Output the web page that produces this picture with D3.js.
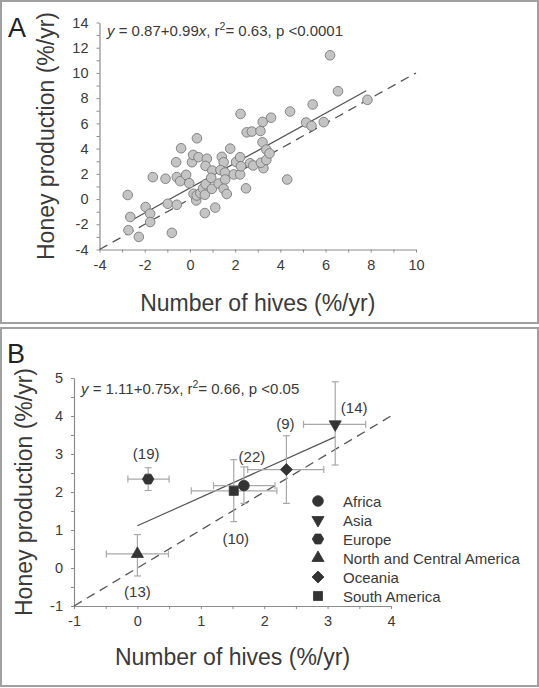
<!DOCTYPE html>
<html><head><meta charset="utf-8">
<script src="https://cdn.jsdelivr.net/npm/d3@7"></script>
<style>
html,body{margin:0;padding:0;background:#fff;}
svg{display:block;font-family:"Liberation Sans",Arial,sans-serif;}
</style></head>
<body><svg id="c" width="539" height="688"></svg>
<script>
// ---------- Panel A data ----------
const hivesA = [-2.75,-2.64,-2.72,-2.26,-1.96,-1.76,-1.76,-1.64,-1.08,-0.98,-0.80,-0.61,-0.58,-0.58,-0.43,-0.39,-0.17,-0.03,0.09,0.14,0.31,0.38,0.16,0.28,0.30,0.46,0.58,0.66,0.70,0.97,0.66,1.12,0.75,0.69,0.99,0.94,1.27,1.41,1.49,1.35,1.55,1.56,1.49,1.63,1.78,1.94,2.04,2.22,2.22,2.24,2.48,2.51,2.74,2.66,2.80,3.12,3.22,3.21,3.25,3.14,3.38,3.38,3.52,3.59,4.30,4.43,5.14,5.38,5.43,5.92,6.20,6.55,7.85,2.26];
const honeyA = [0.32,-1.42,-2.47,-3.00,-0.63,-1.16,-1.82,1.74,1.61,-0.37,-2.68,2.92,1.74,-0.45,1.42,4.03,1.92,1.26,2.92,3.50,4.82,3.32,0.42,-0.11,0.28,0.47,0.84,0.34,1.18,0.81,-1.11,-0.68,3.20,2.63,2.26,1.68,1.23,3.35,2.92,2.30,2.10,1.55,0.82,0.40,4.00,1.95,2.94,3.32,1.95,6.75,0.85,5.29,5.35,2.84,2.66,5.40,6.12,4.50,2.45,2.88,3.10,3.92,3.62,6.45,1.55,6.94,6.07,5.80,7.50,6.10,11.40,8.55,7.87,2.60];
const fitA = {intercept: 0.87, slope: 0.99, xMin: -2.6, xMax: 7.8};
const ticksAx = [-4,-2,0,2,4,6,8,10];
const ticksAy = [-4,-2,0,2,4,6,8,10,12,14];

// ---------- Panel B data ----------
const regions = ["Africa","Asia","Europe","North and Central America","Oceania","South America"];
const hivesB  = [1.68, 3.12, 0.17, 0.00, 2.35, 1.52];
const honeyB  = [2.17, 3.78, 2.34, 0.37, 2.59, 2.03];
const hivesLo = [1.20, 2.62, -0.15, -0.49, 1.74, 0.85];
const hivesHi = [2.17, 3.60, 0.50, 0.49, 2.94, 2.20];
const honeyLo = [1.70, 2.71, 2.04, -0.21, 1.70, 1.22];
const honeyHi = [2.66, 4.90, 2.64, 0.88, 3.48, 2.85];
const counts  = ["(22)","(14)","(19)","(13)","(9)","(10)"];
const fitB = {intercept: 1.11, slope: 0.75, xMin: 0.0, xMax: 3.12};
const ticksBx = [-1,0,1,2,3,4];
const ticksBy = [-1,0,1,2,3,4,5];

// ---------- drawing ----------
const svg = d3.select("#c");
const axisCol = "#8c8c8c", textCol = "#3a3a3a", lineCol = "#555";

// frames
svg.append("rect").attr("x",1).attr("y",1).attr("width",537).attr("height",322)
  .attr("fill","none").attr("stroke","#a0a0a0").attr("stroke-width",2);
svg.append("rect").attr("x",1).attr("y",328).attr("width",537).attr("height",358)
  .attr("fill","none").attr("stroke","#a0a0a0").attr("stroke-width",2);

function minorTicks(majors, step){
  const out=[]; const lo=majors[0], hi=majors[majors.length-1];
  for(let i=0;;i++){const v=+(lo+i*step).toFixed(6); if(v>hi+1e-9)break; out.push(v);}
  return out;
}
function styleAxis(g){
  g.select(".domain").attr("stroke",axisCol).attr("stroke-width",1.2);
  g.selectAll(".tick line").attr("stroke",axisCol);
  g.selectAll(".tick text").attr("fill",textCol).attr("font-size","14.5px")
   .attr("font-family","'Liberation Sans',Arial,sans-serif");
}
function drawAxes(x,y,ticksX,ticksY,stepX,stepY,fmt){
  const gx = svg.append("g").attr("transform",`translate(0,${y.range()[0]})`)
    .call(d3.axisBottom(x).tickValues(minorTicks(ticksX,stepX)).tickSizeInner(3).tickSizeOuter(0).tickPadding(7)
      .tickFormat(d=> ticksX.some(t=>Math.abs(t-d)<1e-9)? fmt(d):""));
  styleAxis(gx);
  const gy = svg.append("g").attr("transform",`translate(${x.range()[0]},0)`)
    .call(d3.axisLeft(y).tickValues(minorTicks(ticksY,stepY)).tickSizeInner(3).tickSizeOuter(0).tickPadding(8)
      .tickFormat(d=> ticksY.some(t=>Math.abs(t-d)<1e-9)? fmt(d):""));
  styleAxis(gy);
}
const fmtNum = d => d<0 ? "-"+Math.abs(d) : String(d);

function eqText(g, xPos, yPos, a, b, r2, p){
  const t = g.append("text").attr("x",xPos).attr("y",yPos).attr("fill",textCol).attr("font-size","15px");
  t.append("tspan").attr("font-style","italic").text("y");
  t.append("tspan").text(` = ${a}+${b}`);
  t.append("tspan").attr("font-style","italic").text("x");
  t.append("tspan").text(", r");
  t.append("tspan").attr("font-size","10.5px").attr("dy",-6).text("2");
  t.append("tspan").attr("dy",6).text(`= ${r2}, p <${p}`);
}

// ===== Panel A =====
const xA = d3.scaleLinear().domain([-4,10]).range([99.5,416]);
const yA = d3.scaleLinear().domain([-4,14]).range([249.5,22.5]);
drawAxes(xA,yA,ticksAx,ticksAy,1,1,fmtNum);

svg.append("line").attr("x1",xA(-4)).attr("y1",yA(-4)).attr("x2",xA(10)).attr("y2",yA(10))
  .attr("stroke",lineCol).attr("stroke-width",1.3).attr("stroke-dasharray","9,6");
svg.append("line").attr("x1",xA(fitA.xMin)).attr("y1",yA(fitA.intercept+fitA.slope*fitA.xMin))
  .attr("x2",xA(fitA.xMax)).attr("y2",yA(fitA.intercept+fitA.slope*fitA.xMax))
  .attr("stroke",lineCol).attr("stroke-width",1.3);

svg.append("g").selectAll("circle").data(hivesA.map((h,i)=>[h,honeyA[i]])).join("circle")
  .attr("cx",d=>xA(d[0])).attr("cy",d=>yA(d[1])).attr("r",4.8)
  .attr("fill","#c4c4c4").attr("stroke","#7a7a7a").attr("stroke-width",0.9);

eqText(svg,107,36,"0.87","0.99","0.63","0.0001");

svg.append("text").attr("x",(xA.range()[0]+xA.range()[1])/2).attr("y",311).attr("text-anchor","middle")
  .attr("font-size","23px").attr("fill",textCol).text("Number of hives (%/yr)");
svg.append("text").attr("transform",`translate(54,${(yA.range()[0]+yA.range()[1])/2}) rotate(-90)`)
  .attr("text-anchor","middle").attr("font-size","23px").attr("fill",textCol).text("Honey production (%/yr)");
svg.append("text").attr("x",8).attr("y",37).attr("font-size","27px").attr("fill","#222").text("A");

// ===== Panel B =====
const xB = d3.scaleLinear().domain([-1,4]).range([74,391]);
const yB = d3.scaleLinear().domain([-1,5]).range([606,378]);
drawAxes(xB,yB,ticksBx,ticksBy,0.5,0.5,fmtNum);

svg.append("line").attr("x1",xB(-1)).attr("y1",yB(-1)).attr("x2",xB(4)).attr("y2",yB(4))
  .attr("stroke",lineCol).attr("stroke-width",1.3).attr("stroke-dasharray","9,6");
svg.append("line").attr("x1",xB(fitB.xMin)).attr("y1",yB(fitB.intercept+fitB.slope*fitB.xMin))
  .attr("x2",xB(fitB.xMax)).attr("y2",yB(fitB.intercept+fitB.slope*fitB.xMax))
  .attr("stroke",lineCol).attr("stroke-width",1.2);

// custom symbols
const symbolHexagon = { draw(ctx,size){ const r=Math.sqrt(size/(1.5*Math.sqrt(3)));
  for(let k=0;k<6;k++){const a=Math.PI/3*k; const px=r*Math.cos(a), py=r*Math.sin(a); k?ctx.lineTo(px,py):ctx.moveTo(px,py);} ctx.closePath(); } };
const invTri = { draw(ctx,size){ const s=Math.sqrt(size*4/Math.sqrt(3)); const h=s*Math.sqrt(3)/2;
  ctx.moveTo(-s/2,-h/3); ctx.lineTo(s/2,-h/3); ctx.lineTo(0,2*h/3); ctx.closePath(); } };
const upTri = { draw(ctx,size){ const s=Math.sqrt(size*4/Math.sqrt(3)); const h=s*Math.sqrt(3)/2;
  ctx.moveTo(-s/2,h/3); ctx.lineTo(s/2,h/3); ctx.lineTo(0,-2*h/3); ctx.closePath(); } };
const squareDiamond = { draw(ctx,size){ const r=Math.sqrt(size/2);
  ctx.moveTo(0,-r); ctx.lineTo(r,0); ctx.lineTo(0,r); ctx.lineTo(-r,0); ctx.closePath(); } };
const symType = {"Africa":[d3.symbolCircle,90],"Asia":[invTri,64],"Europe":[symbolHexagon,85],
  "North and Central America":[upTri,64],"Oceania":[squareDiamond,72],"South America":[d3.symbolSquare,82]};
const labelOff = {"Africa":[8,-24],"Asia":[19,-11],"Europe":[-2,-20],"North and Central America":[0,43],"Oceania":[-1,-41],"South America":[2,53]};

const errCol = "#a8a8a8", cap = 3.5;
const gb = svg.append("g");
regions.forEach((r,i)=>{
  const cx=xB(hivesB[i]), cy=yB(honeyB[i]);
  const g = gb.append("g");
  g.append("line").attr("x1",xB(hivesLo[i])).attr("x2",xB(hivesHi[i])).attr("y1",cy).attr("y2",cy).attr("stroke",errCol).attr("stroke-width",1.2);
  [hivesLo[i],hivesHi[i]].forEach(v=>g.append("line").attr("x1",xB(v)).attr("x2",xB(v)).attr("y1",cy-cap).attr("y2",cy+cap).attr("stroke",errCol).attr("stroke-width",1.2));
  g.append("line").attr("x1",cx).attr("x2",cx).attr("y1",yB(honeyLo[i])).attr("y2",yB(honeyHi[i])).attr("stroke",errCol).attr("stroke-width",1.2);
  [honeyLo[i],honeyHi[i]].forEach(v=>g.append("line").attr("x1",cx-cap).attr("x2",cx+cap).attr("y1",yB(v)).attr("y2",yB(v)).attr("stroke",errCol).attr("stroke-width",1.2));
});
regions.forEach((r,i)=>{
  const cx=xB(hivesB[i]), cy=yB(honeyB[i]);
  gb.append("path").attr("d",d3.symbol().type(symType[r][0]).size(symType[r][1])())
    .attr("transform",`translate(${cx},${cy})`).attr("fill","#333").attr("stroke","#333").attr("stroke-width",0.8);
  gb.append("text").attr("x",cx+labelOff[r][0]).attr("y",cy+labelOff[r][1]).attr("text-anchor","middle")
    .attr("font-size","15px").attr("fill",textCol).text(counts[i]);
});

// legend
const leg = svg.append("g").attr("transform","translate(318,501)");
regions.forEach((r,i)=>{
  const row = leg.append("g").attr("transform",`translate(0,${i*19})`);
  row.append("path").attr("d",d3.symbol().type(symType[r][0]).size(symType[r][1])())
    .attr("fill","#333").attr("stroke","#333").attr("stroke-width",0.8);
  row.append("text").attr("x",25).attr("y",5.5).attr("font-size","15px").attr("fill",textCol).text(r);
});

eqText(svg,81,394,"1.11","0.75","0.66","0.05");

svg.append("text").attr("x",(xB.range()[0]+xB.range()[1])/2).attr("y",665).attr("text-anchor","middle")
  .attr("font-size","23px").attr("fill",textCol).text("Number of hives (%/yr)");
svg.append("text").attr("transform",`translate(32,${(yB.range()[0]+yB.range()[1])/2}) rotate(-90)`)
  .attr("text-anchor","middle").attr("font-size","23px").attr("fill",textCol).text("Honey production (%/yr)");
svg.append("text").attr("x",7).attr("y",363).attr("font-size","27px").attr("fill","#222").text("B");
</script></body></html>
